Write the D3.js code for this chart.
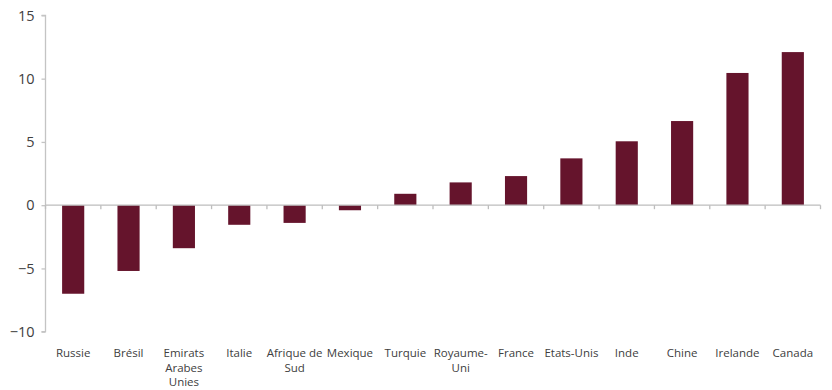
<!DOCTYPE html>
<html>
<head>
<meta charset="utf-8">
<script src="https://cdn.jsdelivr.net/npm/d3@7"></script>
<style>
  body { margin: 0; background: #fff; }
  text { font-family: "Open Sans", "Noto Sans", sans-serif; fill: #404040; }
</style>
</head>
<body>
<script>
// catégories (\n = retour à la ligne dans l'étiquette)
var categories = ["Russie", "Brésil", "Emirats\nArabes\nUnies", "Italie", "Afrique de\nSud", "Mexique",
    "Turquie", "Royaume-\nUni", "France", "Etats-Unis", "Inde", "Chine", "Irelande", "Canada"];
var values = [-7.0, -5.2, -3.4, -1.55, -1.4, -0.4, 0.9, 1.8, 2.3, 3.7, 5.05, 6.65, 10.45, 12.1];
var yTicks = [-10, -5, 0, 5, 10, 15];

var width = 832;
var height = 390;
var padding = { top: 15.4, right: 11.5, bottom: 58.3, left: 45.5 };

var svg = d3.select("body")
    .append("svg")
    .attr("width", width)
    .attr("height", height);

var data = categories.map(function(c, i) { return { name: c, value: values[i] }; });

// échelles
var xScale = d3.scaleBand()
    .domain(categories)
    .range([padding.left, width - padding.right])
    .paddingInner(0.6)
    .paddingOuter(0.3);

var yScale = d3.scaleLinear()
    .domain([-10, 15])
    .range([height - padding.bottom, padding.top]);

// barres
svg.selectAll("rect.bar")
    .data(data)
    .enter()
    .append("rect")
    .attr("class", "bar")
    .attr("x", function(d) { return xScale(d.name); })
    .attr("width", xScale.bandwidth())
    .attr("y", function(d) { return yScale(Math.max(0, d.value)); })
    .attr("height", function(d) { return Math.abs(yScale(d.value) - yScale(0)); })
    .attr("fill", "#65142c");

// axe y
var yAxis = d3.axisLeft(yScale)
    .tickValues(yTicks)
    .tickSize(4)
    .tickPadding(7)
    .tickFormat(d3.format("d"));

var gy = svg.append("g")
    .attr("transform", "translate(" + padding.left + ",0)")
    .call(yAxis);
gy.select(".domain").attr("stroke", "#c4c4c4").attr("stroke-width", 1.3)
    .attr("d", "M-4," + yScale(15) + "H0V" + yScale(-10) + "H-4");
gy.selectAll(".tick line").attr("stroke", "#c4c4c4").attr("stroke-width", 1.3);
gy.selectAll(".tick text").style("font-size", "14.5px").style("fill", "#404040");

// axe x à zéro
var x0 = padding.left;
var x1 = width - padding.right;
var step = xScale.step();
var gx = svg.append("g");
gx.append("line")
    .attr("x1", x0).attr("x2", x1)
    .attr("y1", yScale(0)).attr("y2", yScale(0))
    .attr("stroke", "#bdbdbd").attr("stroke-width", 1.3);
gx.selectAll("line.tk")
    .data(d3.range(categories.length + 1))
    .enter()
    .append("line")
    .attr("class", "tk")
    .attr("x1", function(i) { return x0 + i * step; })
    .attr("x2", function(i) { return x0 + i * step; })
    .attr("y1", yScale(0))
    .attr("y2", yScale(0) + 4)
    .attr("stroke", "#bdbdbd").attr("stroke-width", 1.3);

// étiquettes
var labels = svg.selectAll("text.cat")
    .data(categories)
    .enter()
    .append("text")
    .attr("class", "cat")
    .attr("text-anchor", "middle")
    .style("font-size", "11.5px")
    .attr("y", 357);

labels.each(function(d) {
    var t = d3.select(this);
    var cx = xScale(d) + xScale.bandwidth() / 2;
    d.split("\n").forEach(function(line, i) {
        t.append("tspan")
            .attr("x", cx)
            .attr("dy", i === 0 ? 0 : 14.5)
            .text(line);
    });
});
</script>
</body>
</html>
